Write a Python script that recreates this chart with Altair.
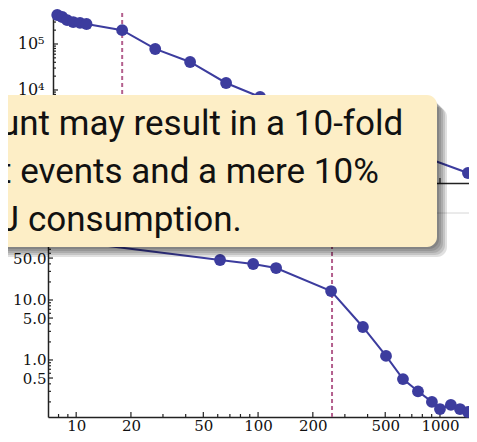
import altair as alt
import pandas as pd

# ---------------- data ----------------
top_x = [7.87, 8.38, 8.92, 9.63, 10.5, 11.4, 17.9, 27.2, 42.3, 66.7, 102.6, 1425]
top_y = [4.27e5, 3.86e5, 3.3e5, 3.0e5, 2.87e5, 2.72e5, 2.0e5, 7.8e4, 4.06e4, 1.42e4, 7050, 157]
top_marker = [17.9]

bottom_x = [8.2, 61.8, 94, 125.6, 252, 377, 505, 626, 757, 903, 1000, 1148, 1288, 1425]
bottom_y = [100, 46.4, 39.8, 34.1, 14.1, 3.55, 1.17, 0.48, 0.30, 0.20, 0.152, 0.178, 0.152, 0.136]
bottom_marker = [255]

x_major = [10, 20, 50, 100, 200, 500, 1000]
x_minor = [8, 9, 30, 40, 60, 70, 80, 90, 300, 400, 600, 700, 800, 900]
top_y_major = [1e2, 1e3, 1e4, 1e5]
top_y_labels = [1e4, 1e5]
top_y_minor = [2e2, 3e2, 4e2, 5e2, 6e2, 7e2, 8e2, 9e2,
               2e3, 3e3, 4e3, 5e3, 6e3, 7e3, 8e3, 9e3,
               2e4, 3e4, 4e4, 5e4, 6e4, 7e4, 8e4, 9e4,
               2e5, 3e5, 4e5]
bottom_y_major = [0.5, 1, 5, 10, 50]
bottom_y_minor = [0.2, 0.3, 0.4, 0.6, 0.7, 0.8, 0.9, 2, 3, 4, 6, 7, 8, 9,
                  20, 30, 40, 60, 70, 80]

callout_lines = ["unt may result in a 10-fold",
                 "t events and a mere 10%",
                 "J consumption."]

# ---------------- styling ----------------
W, H = 421, 404
TOP_BOTTOM = 170          # bottom of the upper panel (px in view)
BOT_TOP = 232             # top of the lower panel (px in view)
SERIES = "#3c3c9e"
MARKER = "#b4608e"
AXC = "#222222"
FONT = "DejaVu Serif"

xscale = alt.Scale(type="log", domain=[7.0, 1444], range=[0, W])
ytop = alt.Scale(type="log", domain=[95, 4.72e5], range=[TOP_BOTTOM, 0])
ybot = alt.Scale(type="log", domain=[0.112, 82.6], range=[H, BOT_TOP])

common_axis = dict(labelFont=FONT, labelColor="#111111",
                   domainColor=AXC, domainWidth=1.5, ticks=False, grid=False,
                   title=None, labelOverlap=False, labelFlush=False)

top_x_axis = alt.Axis(orient="bottom", offset=-(H - TOP_BOTTOM), values=x_major,
                      labels=False, **common_axis)
bot_x_axis = alt.Axis(orient="bottom", values=x_major, format="d", labelFontSize=15,
                      labelPadding=1, **common_axis)
top_y_axis = alt.Axis(orient="left", offset=-5, values=top_y_labels, labelPadding=9,
                      labelFontSize=16,
                      labelExpr="'10' + (datum.value < 50000 ? '⁴' : '⁵')",
                      **common_axis)
bot_y_axis = alt.Axis(orient="left", values=bottom_y_major, format=".1f",
                      labelFontSize=15, labelPadding=2, **common_axis)


def xticks(values, y0, length):
    return alt.Chart(pd.DataFrame({"v": values})).mark_rule(
        color=AXC, strokeWidth=1.2).encode(
        x=alt.X("v:Q", scale=xscale, axis=None),
        y=alt.value(y0), y2=alt.value(y0 - length))


def yticks(values, yscale, x0, length):
    return alt.Chart(pd.DataFrame({"v": values})).mark_rule(
        color=AXC, strokeWidth=1.2).encode(
        y=alt.Y("v:Q", scale=yscale, axis=None),
        x=alt.value(x0), x2=alt.value(x0 + length))


def marker_rule(values, y0, y1):
    return alt.Chart(pd.DataFrame({"v": values})).mark_rule(
        color=MARKER, strokeWidth=2, strokeDash=[4, 3]).encode(
        x=alt.X("v:Q", scale=xscale, axis=None),
        y=alt.value(y0), y2=alt.value(y1))


# ---------------- upper panel ----------------
top_df = pd.DataFrame({"x": top_x, "y": top_y})
top_line = alt.Chart(top_df).mark_line(color=SERIES, strokeWidth=2).encode(
    x=alt.X("x:Q", scale=xscale, axis=top_x_axis),
    y=alt.Y("y:Q", scale=ytop, axis=top_y_axis))
top_pts = alt.Chart(top_df).mark_circle(color=SERIES, size=140, opacity=1).encode(
    x=alt.X("x:Q", scale=xscale, axis=None),
    y=alt.Y("y:Q", scale=ytop, axis=None))
top_layers = [
    marker_rule(top_marker, 0, TOP_BOTTOM),
    yticks(top_y_major, ytop, 5, 5),
    yticks(top_y_minor, ytop, 5, 3),
    xticks(x_major, TOP_BOTTOM, 5),
    xticks(x_minor, TOP_BOTTOM, 3),
    top_line, top_pts]

# ---------------- lower panel ----------------
bot_df = pd.DataFrame({"x": bottom_x, "y": bottom_y})
bot_line = alt.Chart(bot_df).mark_line(color=SERIES, strokeWidth=2).encode(
    x=alt.X("x:Q", scale=xscale, axis=bot_x_axis),
    y=alt.Y("y:Q", scale=ybot, axis=bot_y_axis))
bot_pts = alt.Chart(bot_df).mark_circle(color=SERIES, size=140, opacity=1).encode(
    x=alt.X("x:Q", scale=xscale, axis=None),
    y=alt.Y("y:Q", scale=ybot, axis=None))
bot_layers = [
    marker_rule(bottom_marker, BOT_TOP, H),
    yticks(bottom_y_major, ybot, 0, 5),
    yticks(bottom_y_minor, ybot, 0, 3),
    xticks(x_major, H, 5),
    xticks(x_minor, H, 3),
    bot_line, bot_pts]

# ---------------- slide decorations & callout ----------------
one = pd.DataFrame({"a": [0]})
frame = [
    alt.Chart(one).mark_rule(color="#d6d6d6", strokeWidth=1).encode(
        x=alt.value(-48), x2=alt.value(W), y=alt.value(200)),
]

BX0, BX1, BY0, BY1 = -70, 389, 82, 234
shadows = [
    alt.Chart(one).mark_rect(color="black", opacity=0.12, cornerRadius=10).encode(
        x=alt.value(BX0 + k), x2=alt.value(BX1 + k),
        y=alt.value(BY0 + k + 2), y2=alt.value(BY1 + k))
    for k in [2, 4, 6, 8, 10]
]
box = alt.Chart(one).mark_rect(color="#fdeec6", opacity=1, cornerRadius=10).encode(
    x=alt.value(BX0), x2=alt.value(BX1), y=alt.value(BY0), y2=alt.value(BY1))

text_df = pd.DataFrame({"t": ["\n".join(callout_lines)]})
text = alt.Chart(text_df).mark_text(
    align="left", baseline="alphabetic", font="Roboto", fontSize=35,
    lineBreak="\n", lineHeight=48, color="#111111").encode(
    x=alt.value(-48), y=alt.value(122), text="t:N")

chart = alt.layer(*top_layers, *bot_layers, *frame, *shadows, box, text).resolve_scale(
    y="independent").resolve_axis(x="independent", y="independent").properties(
    width=W, height=H,
    autosize=alt.AutoSizeParams(type="none"),
    padding={"left": 40, "top": 5, "right": 0, "bottom": 17},
).configure_view(stroke=None).configure_axis(grid=False)

chart.save("out.html", embed_options={"renderer": "svg", "actions": False})
